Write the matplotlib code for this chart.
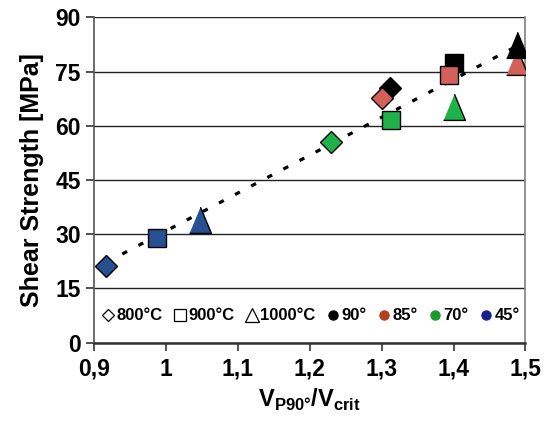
import matplotlib
matplotlib.use("Agg")
import matplotlib.pyplot as plt
from matplotlib.lines import Line2D
import numpy as np

plt.rcParams["font.family"] = ["Liberation Sans", "DejaVu Sans"]
plt.rcParams["font.weight"] = "bold"

# data: (V_P90/V_crit, shear strength)
temps = ["800°C", "900°C", "1000°C"]
angles = ["90°", "85°", "70°", "45°"]

x_90 = [1.311, 1.400, 1.488]
y_90 = [70.4, 77.4, 81.8]
x_85 = [1.300, 1.394, 1.488]
y_85 = [67.7, 74.0, 77.2]
x_70 = [1.229, 1.313, 1.400]
y_70 = [55.5, 61.5, 64.7]
x_45 = [0.917, 0.987, 1.048]
y_45 = [21.3, 29.0, 33.3]

xticks = [0.9, 1.0, 1.1, 1.2, 1.3, 1.4, 1.5]
xticklabels = ["0,9", "1", "1,1", "1,2", "1,3", "1,4", "1,5"]
yticks = [0, 15, 30, 45, 60, 75, 90]

angle_colors = {"90°": "#000000", "85°": "#d4605a", "70°": "#1fb14a", "45°": "#255192"}
legend_colors = {"90°": "#000000", "85°": "#b5401a", "70°": "#1a9a2a", "45°": "#1a1f8f"}
tall_tri = [(-1, -1), (1, -1), (0, 1.4)]
markers = {"800°C": "D", "900°C": "s", "1000°C": tall_tri}
msizes = {"800°C": 10.8, "900°C": 12.8, "1000°C": 22}

xs = {"90°": x_90, "85°": x_85, "70°": x_70, "45°": x_45}
ys = {"90°": y_90, "85°": y_85, "70°": y_70, "45°": y_45}

fig = plt.figure(figsize=(5.48, 4.23), dpi=100)
ax = fig.add_axes([0.1715, 0.1903, 0.7874, 0.7688])

# trend line (least squares through all points)
all_x = np.concatenate([x_90, x_85, x_70, x_45])
all_y = np.concatenate([y_90, y_85, y_70, y_45])
k, b = np.polyfit(all_x, all_y, 1)
tx = np.array([all_x.min(), all_x.max()])
ax.plot(tx, k * tx + b, color="black", lw=2.3, linestyle=(0, (1.7, 4.0)), zorder=2)

# stacking order as in the reference
order = {"800°C": ["45°", "70°", "90°", "85°"],
         "900°C": ["45°", "70°", "90°", "85°"],
         "1000°C": ["45°", "70°", "85°", "90°"]}
z = 3
for i, t in enumerate(temps):
    for ang in order[t]:
        ax.plot(xs[ang][i], ys[ang][i], marker=markers[t], ms=msizes[t],
                mfc=angle_colors[ang], mec="black", mew=1.0, ls="none", zorder=z)
        z += 1

ax.set_xlim(0.9, 1.5)
ax.set_ylim(0, 90)
ax.set_xticks(xticks)
ax.set_xticklabels(xticklabels)
ax.set_yticks(yticks)
ax.tick_params(axis="both", labelsize=16.5, direction="out", length=6, width=1.2,
               color="#333333")
ax.tick_params(axis="x", pad=5)
for lab in ax.get_xticklabels() + ax.get_yticklabels():
    lab.set_fontweight("bold")
ax.yaxis.grid(True, color="#222222", lw=1.0)
ax.set_axisbelow(True)
ax.spines["top"].set_visible(False)
ax.spines["right"].set_color("#808080")
ax.spines["right"].set_linewidth(1.2)
ax.spines["left"].set_color("#555555")
ax.spines["left"].set_linewidth(1.2)
ax.spines["bottom"].set_color("#333333")
ax.spines["bottom"].set_linewidth(1.8)

ax.set_ylabel("Shear Strength [MPa]", fontsize=18, fontweight="bold", labelpad=8)
ax.set_xlabel(r"V$_{\mathregular{P90°}}$/V$_{\mathregular{crit}}$", fontsize=17,
              fontweight="bold", labelpad=4)

# legend
handles = [
    Line2D([], [], marker="D", ms=6.3, mfc="white", mec="black", mew=0.9, ls="none"),
    Line2D([], [], marker="s", ms=9, mfc="white", mec="black", mew=0.9, ls="none"),
    Line2D([], [], marker="^", ms=10.5, mfc="white", mec="black", mew=0.9, ls="none"),
]
for ang in angles:
    handles.append(Line2D([], [], marker="o", ms=6.5, mfc=legend_colors[ang],
                          mec=legend_colors[ang], ls="none"))
labels = temps + angles
ax.legend(handles, labels, loc="center", bbox_to_anchor=(0.5, 0.082), ncol=7,
          frameon=False, handletextpad=0.0, columnspacing=0.55, handlelength=1.0,
          borderpad=0, prop={"weight": "bold", "size": 12})

fig.savefig("out.png", dpi=100)
